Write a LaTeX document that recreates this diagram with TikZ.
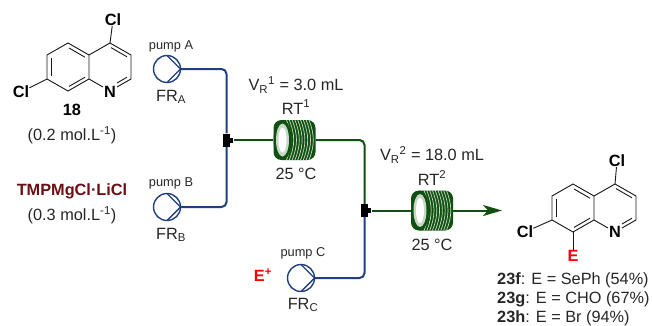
\documentclass[tikz,border=0pt]{standalone}
\usepackage{fontspec}
\setmainfont{Liberation Sans}
\usepackage{tikz}
\usetikzlibrary{arrows.meta, positioning, shapes.geometric}
\definecolor{tubeblue}{HTML}{1F3F7F}
\definecolor{tubegreen}{HTML}{0F4F0F}
\definecolor{coilpale}{HTML}{C8D8C8}
\definecolor{basered}{HTML}{6B0F14}
\definecolor{electred}{HTML}{FF0000}

\tikzset{
  pics/quinoline/.style={code={
    \coordinate (-c4) at (0,0);
    \coordinate (-c3) at (21,12);
    \coordinate (-c2) at (21,36);
    \coordinate (-c8a) at (-21,36);
    \coordinate (-c4a) at (-21,12);
    \coordinate (-c5) at (-42,0);
    \coordinate (-c6) at (-63,12);
    \coordinate (-c7) at (-63,36);
    \coordinate (-c8) at (-42,48);
    \draw[bond] (-c4) -- (-c3) -- (-c2) -- (7,44);
    \draw[bond] (-7,44) -- (-c8a) -- (-c4a) -- (-c4);
    \draw[bond] (-c4a) -- (-c5) -- (-c6) -- (-c7) -- (-c8) -- (-c8a);
    \draw[bond] (1,4.6) -- (17,13.8);
    \draw[bond] (17,34.2) -- (7,40);
    \draw[bond] (-25,14.2) -- (-41,5);
    \draw[bond] (-59,15) -- (-59,33);
    \draw[bond] (-41,43.4) -- (-25,34.2);
  }}
}

\begin{document}
\begin{tikzpicture}[
  x=1pt, y=-1pt,
  bond/.style={line width=0.9pt, color=black!90},
  txt/.style={font=\fontsize{16.3}{18}\selectfont, inner sep=0pt, text=black!85},
  small/.style={font=\fontsize{12.8}{14}\selectfont, inner sep=0pt, text=black!85},
  atom/.style={font=\bfseries\fontsize{16.3}{18}\selectfont, inner sep=0pt},
  boldred/.style={atom, text=electred},
  pumpnode/.style={circle, draw=tubeblue, line width=1.4pt, minimum size=27pt, inner sep=0pt,
    path picture={\draw[tubeblue, line width=1.4pt] (path picture bounding box.north) -- (path picture bounding box.east) -- (path picture bounding box.south);}},
  junction/.style={rectangle, fill=black, minimum width=7pt, minimum height=13pt, inner sep=0pt},
  stub/.style={rectangle, fill=black, minimum width=3pt, minimum height=5pt, inner sep=0pt},
  coilnode/.style={rectangle, rounded corners=8pt, fill=tubegreen, minimum width=42pt, minimum height=40pt, inner sep=0pt,
    path picture={
      \foreach \s in {-8,-5.2,...,16} {
        \draw[coilpale, line width=0.7pt] ([xshift=\s pt]path picture bounding box.north) to[bend left=22] ([xshift=\s pt]path picture bounding box.south);
      }
      \fill[tubegreen] ([xshift=-12pt]path picture bounding box.center) ellipse (9pt and 20pt);
      \fill[coilpale] ([xshift=-12pt]path picture bounding box.center) ellipse (6.5pt and 16.5pt);
      \fill[white] ([xshift=-12pt]path picture bounding box.center) ellipse (4pt and 12.5pt);
    }},
  bluetube/.style={draw=tubeblue, line width=2pt, rounded corners=5pt},
  greentube/.style={draw=tubegreen, line width=2pt, rounded corners=5pt},
  outarrow/.style={draw=tubegreen, line width=2pt, -{Stealth[length=19pt, width=11pt, inset=5pt]}}
]
  \useasboundingbox (0,0) rectangle (652,325);

  % substrate
  \pic (sm) at (110,43) {quinoline};
  \node[atom] (smcla) at (113,20) {Cl};
  \node[atom] (smclb) at (21,92) {Cl};
  \node[atom] (smn) at (110,92) {N};
  \draw[bond] (sm-c4) -- (smcla);
  \draw[bond] (sm-c7) -- (smclb);
  \node[atom] (smlabel) at (72,110) {18};
  \node[txt] (smconc) at (72,135) {(0.2 mol.L\textsuperscript{-1})};

  % base
  \node[atom, text=basered] (base) at (72,191) {TMPMgCl·LiCl};
  \node[txt] (baseconc) at (72,215) {(0.3 mol.L\textsuperscript{-1})};

  % pumps
  \node[pumpnode] (pumpa) at (167,69) {};
  \node[pumpnode] (pumpb) at (167,207) {};
  \node[pumpnode] (pumpc) at (301,278) {};
  \node[small] (pumpatext) at (171,46) {pump A};
  \node[small] (pumpbtext) at (171,183) {pump B};
  \node[small] (pumpctext) at (303,253) {pump C};
  \node[txt] (fra) at (171,97) {FR\textsubscript{A}};
  \node[txt] (frb) at (171,235) {FR\textsubscript{B}};
  \node[txt] (frc) at (303,305) {FR\textsubscript{C}};
  \node[boldred] (eplus) at (263,275) {E\textsuperscript{+}};

  % mixers and coils
  \node[coilnode] (coila) at (294.5,140) {};
  \node[coilnode] (coilb) at (432,210.5) {};
  \coordinate (out) at (502,210.5);
  \node[junction] (mixa) at (226.5,140) {};
  \node[stub, right=0pt of mixa] (mixastub) {};
  \node[junction] (mixb) at (364.5,210.5) {};
  \node[stub, right=0pt of mixb] (mixbstub) {};

  \draw[bluetube] (pumpa.east) -| (mixa.north);
  \draw[bluetube] (pumpb.east) -| (mixa.south);
  \draw[bluetube] (pumpc.east) -| (mixb.south);
  \draw[greentube] (mixastub.east) -- (coila.west);
  \draw[greentube] (coila.east) -| (mixb.north);
  \draw[greentube] (mixbstub.east) -- (coilb.west);
  \draw[outarrow] (coilb.east) -- (out);

  \node[txt] (vra) at (296,85) {V\textsubscript{R}\textsuperscript{1} = 3.0 mL};
  \node[txt] (rta) at (296,107) {RT\textsuperscript{1}};
  \node[txt] (tempa) at (296,174) {25 °C};
  \node[txt] (vrb) at (432,155) {V\textsubscript{R}\textsuperscript{2} = 18.0 mL};
  \node[txt] (rtb) at (432,178) {RT\textsuperscript{2}};
  \node[txt] (tempb) at (432,245) {25 °C};

  % products
  \pic (pr) at (615,184) {quinoline};
  \node[atom] (prcla) at (617,161) {Cl};
  \node[atom] (prclb) at (525,232) {Cl};
  \node[atom] (prn) at (615,232) {N};
  \node[boldred] (pre) at (573,256) {E};
  \draw[bond] (pr-c4) -- (prcla);
  \draw[bond] (pr-c7) -- (prclb);
  \draw[bond] (pr-c8) -- (pre);
  \node[txt, anchor=west] (prodf) at (497,280) {\textbf{23f}: E = SePh (54\%)};
  \node[txt, anchor=west] (prodg) at (497,299) {\textbf{23g}: E = CHO (67\%)};
  \node[txt, anchor=west] (prodh) at (497,318) {\textbf{23h}: E = Br (94\%)};
\end{tikzpicture}
\end{document}
